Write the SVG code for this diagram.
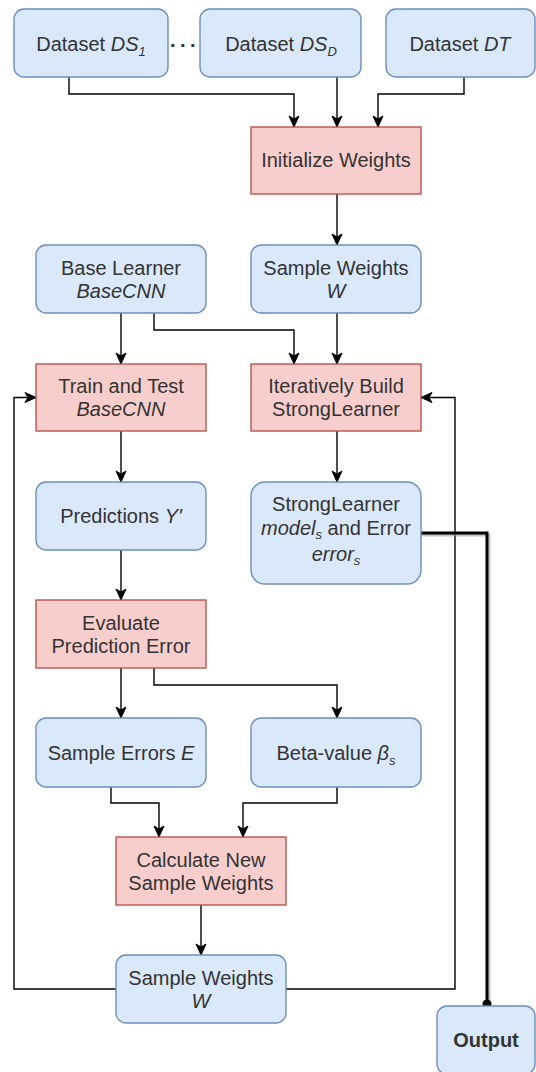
<svg xmlns="http://www.w3.org/2000/svg" width="536" height="1072" viewBox="0 0 536 1072">
<style>
.b{fill:#dae8fc;stroke:#6c8ebf;stroke-width:1.4}
.p{fill:#f8cecc;stroke:#b85450;stroke-width:1.4}
text{font-family:"Liberation Sans",Arial,sans-serif;font-size:20px;fill:#333333;text-anchor:middle}
.i{font-style:italic}
.s{font-size:13px;font-style:italic}
.c{fill:none;stroke:#000;stroke-width:1.4}
</style>
<defs>
<marker id="a" markerUnits="userSpaceOnUse" markerWidth="14" markerHeight="12" refX="12" refY="6" orient="auto">
<path d="M1,1 L12,6 L1,11 L4,6 Z" fill="#000" stroke="#000" stroke-width="1"/>
</marker>
</defs>
<rect x="0" y="0" width="536" height="1072" fill="#ffffff"/>
<g id="connectors">
<path class="c" d="M69,77 V94 H294 V127" marker-end="url(#a)"/>
<path class="c" d="M337,77 V127" marker-end="url(#a)"/>
<path class="c" d="M464,77 V94 H378 V127" marker-end="url(#a)"/>
<path class="c" d="M337,194 V245" marker-end="url(#a)"/>
<path class="c" d="M121,313 V364" marker-end="url(#a)"/>
<path class="c" d="M154,313 V330 H294 V364" marker-end="url(#a)"/>
<path class="c" d="M337,313 V364" marker-end="url(#a)"/>
<path class="c" d="M121,431 V482" marker-end="url(#a)"/>
<path class="c" d="M337,431 V482" marker-end="url(#a)"/>
<path class="c" d="M121,550 V600" marker-end="url(#a)"/>
<path class="c" d="M121,668 V718" marker-end="url(#a)"/>
<path class="c" d="M154,668 V685 H337 V718" marker-end="url(#a)"/>
<path class="c" d="M111,787 V803 H159 V837" marker-end="url(#a)"/>
<path class="c" d="M337,787 V803 H243 V837" marker-end="url(#a)"/>
<path class="c" d="M201,905 V955" marker-end="url(#a)"/>
<path class="c" d="M116,989 H14 V397.5 H36" marker-end="url(#a)"/>
<path class="c" d="M286,989 H455 V397.5 H421" marker-end="url(#a)"/>
<path d="M421,535 H489 V1006" fill="none" stroke="#999" stroke-width="3" opacity="0.6"/>
<path d="M421,533 H487 V1004" fill="none" stroke="#000" stroke-width="3"/>
<circle cx="487" cy="1004" r="4.5" fill="#000"/>
</g>
<g id="ds1"><rect class="b" x="14" y="9" width="154" height="68" rx="10"/><text x="91" y="51">Dataset <tspan class="i">DS</tspan><tspan class="s" dy="5">1</tspan></text></g>
<g id="dots"><text x="185" y="47" style="letter-spacing:4.5px;font-weight:bold">...</text></g>
<g id="dsd"><rect class="b" x="200" y="9" width="161" height="68" rx="10"/><text x="281" y="51">Dataset <tspan class="i">DS</tspan><tspan class="s" dy="5">D</tspan></text></g>
<g id="dt"><rect class="b" x="386" y="9" width="149" height="68" rx="10"/><text x="460" y="51">Dataset <tspan class="i">DT</tspan></text></g>
<g id="init"><rect class="p" x="251" y="127" width="170" height="67"/><text x="336" y="167">Initialize Weights</text></g>
<g id="baselearner"><rect class="b" x="36" y="245" width="170" height="68" rx="10"/><text x="121" y="275">Base Learner</text><text x="121" y="298" class="i">BaseCNN</text></g>
<g id="sampleweights1"><rect class="b" x="251" y="245" width="170" height="68" rx="10"/><text x="336" y="275">Sample Weights</text><text x="336" y="298" class="i">W</text></g>
<g id="train"><rect class="p" x="36" y="364" width="170" height="67"/><text x="121" y="393">Train and Test</text><text x="121" y="416" class="i">BaseCNN</text></g>
<g id="iter"><rect class="p" x="251" y="364" width="170" height="67"/><text x="336" y="393">Iteratively Build</text><text x="336" y="416">StrongLearner</text></g>
<g id="predictions"><rect class="b" x="36" y="482" width="170" height="68" rx="10"/><text x="121" y="523">Predictions <tspan class="i">Y'</tspan></text></g>
<g id="strong"><rect class="b" x="251" y="482" width="170" height="102" rx="14"/><text x="336" y="511">StrongLearner</text><text x="336" y="535"><tspan class="i">model</tspan><tspan class="s" dy="4">s</tspan><tspan dy="-4"> and Error</tspan></text><text x="336" y="561"><tspan class="i">error</tspan><tspan class="s" dy="4">s</tspan></text></g>
<g id="evaluate"><rect class="p" x="36" y="600" width="170" height="68"/><text x="121" y="630">Evaluate</text><text x="121" y="653">Prediction Error</text></g>
<g id="sampleerrors"><rect class="b" x="36" y="718" width="170" height="69" rx="10"/><text x="121" y="760">Sample Errors <tspan class="i">E</tspan></text></g>
<g id="beta"><rect class="b" x="251" y="718" width="170" height="69" rx="10"/><text x="336" y="760">Beta-value <tspan class="i">β</tspan><tspan class="s" dy="5">s</tspan></text></g>
<g id="calculate"><rect class="p" x="116" y="837" width="170" height="68"/><text x="201" y="867">Calculate New</text><text x="201" y="890">Sample Weights</text></g>
<g id="sampleweights2"><rect class="b" x="116" y="955" width="170" height="68" rx="10"/><text x="201" y="985">Sample Weights</text><text x="201" y="1008" class="i">W</text></g>
<g id="output"><rect class="b" x="437" y="1006" width="98" height="68" rx="10"/><text x="486" y="1047" style="font-weight:bold">Output</text></g>
</svg>
